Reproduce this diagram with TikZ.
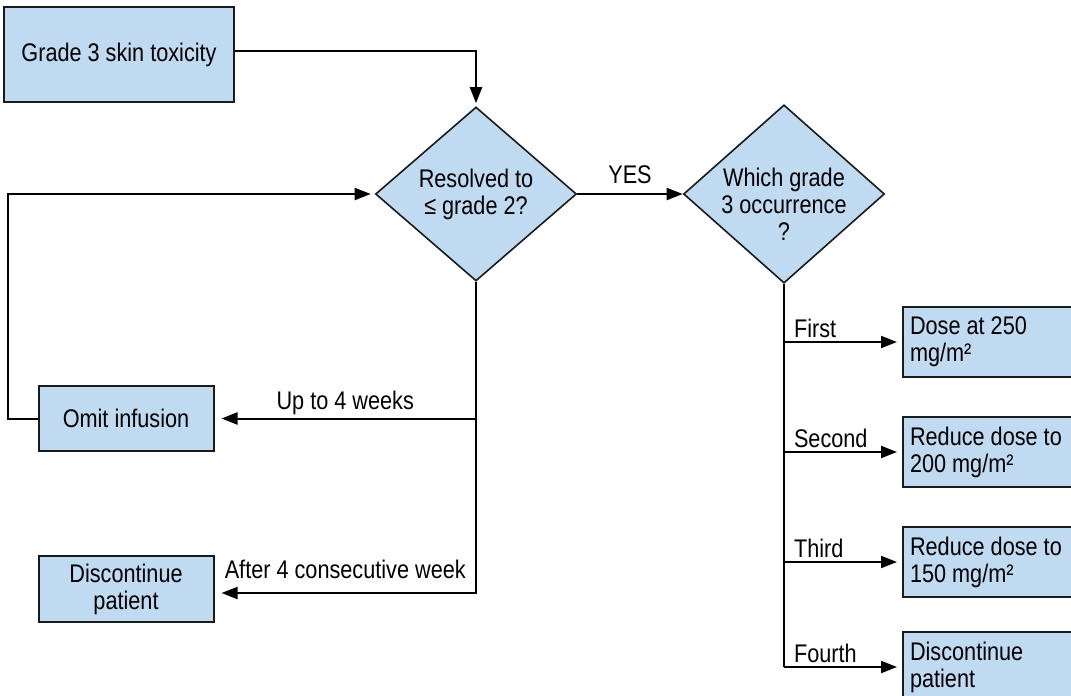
\documentclass[tikz,border=0pt]{standalone}
\usepackage{fontspec}
\setmainfont[FakeStretch=0.85]{Liberation Sans}
\usepackage{tikz}
\usetikzlibrary{arrows.meta,positioning,shapes.geometric,calc}
\definecolor{celeste}{HTML}{C0DAF2}
\definecolor{borde}{HTML}{1A1A1A}
\tikzset{
  caja/.style={draw=borde,fill=celeste,line width=2pt,rectangle,inner sep=0pt,align=center},
  rombo/.style={draw=borde,fill=celeste,line width=1.6pt,diamond,inner sep=-10pt,minimum width=201pt,minimum height=174pt,align=center},
  flecha/.style={line width=2pt,-{Triangle[length=16pt,width=12pt]}},
  etiqueta/.style={inner sep=3pt}
}
\begin{document}
\begin{tikzpicture}[x=1pt,y=-1pt,font=\fontsize{25.5}{27}\selectfont]
\useasboundingbox (0,0) rectangle (1071,696);
\clip (0,0) rectangle (1071,696);
\node[caja,minimum width=230pt,minimum height=95pt] (tox) at (119,54.5) {Grade 3 skin toxicity};
\node[rombo] (res) at (476,194) {Resolved to\\≤ grade 2?};
\node[rombo] (chk) at (784,194) {\rule{0pt}{39pt}Which grade\\3 occurrence\\?};
\node[caja,minimum width=175pt,minimum height=65pt] (omit) at (126,418.5) {Omit infusion};
\node[caja,minimum width=175pt,minimum height=66pt] (disc) at (126,589) {Discontinue\\patient};
\node[caja,minimum width=200pt,minimum height=70pt,text width=186pt,align=flush left] (d1) at (1003,342) {Dose at 250\\mg/m²};
\node[caja,minimum width=200pt,minimum height=70pt,text width=186pt,align=flush left] (d2) at (1003,452) {Reduce dose to\\200 mg/m²};
\node[caja,minimum width=200pt,minimum height=70pt,text width=186pt,align=flush left] (d3) at (1003,562) {Reduce dose to\\150 mg/m²};
\node[caja,minimum width=200pt,minimum height=70pt,text width=186pt,align=flush left] (d4) at (1003,667) {Discontinue\\patient};
% entrada y si
\draw[flecha,shorten >=3pt] ([yshift=4pt]tox.east) -| (res.north);
\draw[flecha] (res.east) -- node[above,etiqueta,yshift=6pt]{YES} (chk.west);
% rama izquierda
\draw[flecha,shorten >=7pt] (res.south |- omit.east) -- node[above,etiqueta]{Up to 4 weeks} (omit.east);
\draw[flecha,shorten >=7pt] (res.south) |- node[pos=0.75,above,etiqueta,yshift=10pt]{After 4 consecutive week} ([yshift=-4pt]disc.east);
\draw[flecha,shorten >=4pt] (omit.west) -- ++(-30,0) |- (res.west);
% rama derecha
\draw[line width=2pt] (chk.south) -- (chk.south |- d4.west);
\foreach \n/\t in {d1/First,d2/Second,d3/Third,d4/Fourth}
  \draw[flecha,shorten >=5pt] (chk.south |- \n.west) -- node[pos=0,above right,etiqueta,xshift=6pt]{\t} (\n.west);
\end{tikzpicture}
\end{document}
